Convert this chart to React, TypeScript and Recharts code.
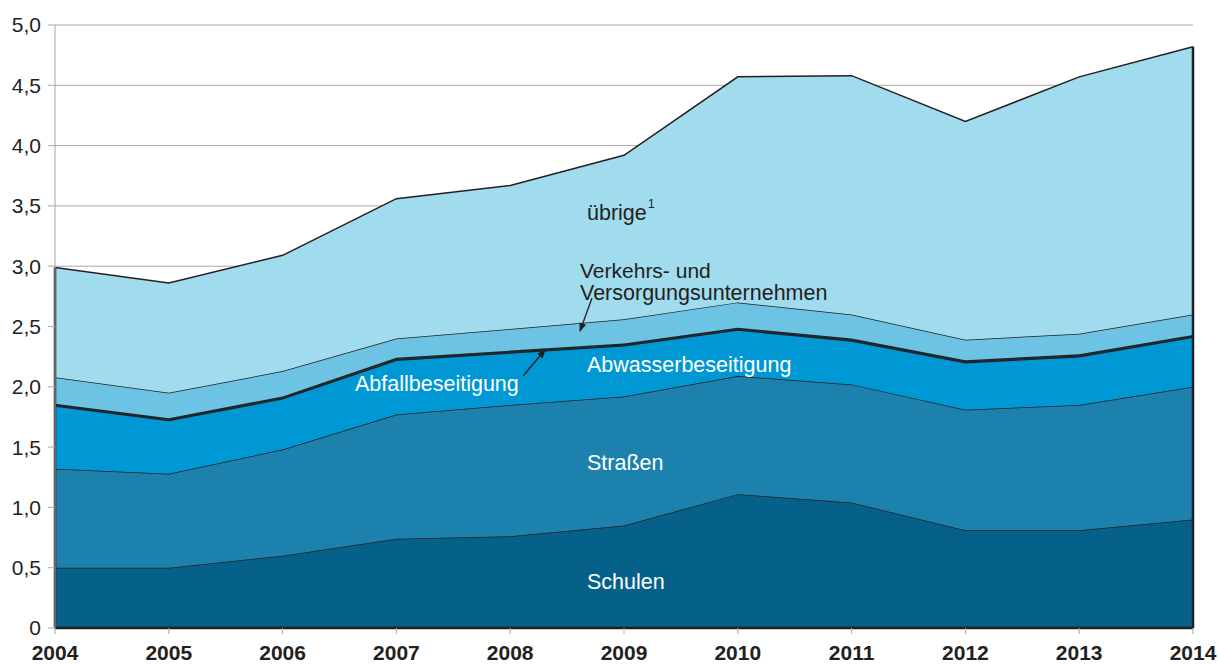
import React from "react"
import { AreaChart, Area, XAxis, YAxis, CartesianGrid, ReferenceLine } from "recharts"

const years = ["2004", "2005", "2006", "2007", "2008", "2009", "2010", "2011", "2012", "2013", "2014"]
const schulen = [0.5, 0.5, 0.6, 0.74, 0.76, 0.85, 1.11, 1.04, 0.81, 0.81, 0.9]
const strassen = [0.82, 0.78, 0.88, 1.03, 1.09, 1.07, 0.98, 0.98, 1.0, 1.04, 1.1]
const abwasser = [0.52, 0.44, 0.42, 0.45, 0.43, 0.42, 0.38, 0.36, 0.39, 0.4, 0.41]
const abfall = [0.02, 0.02, 0.02, 0.02, 0.02, 0.02, 0.02, 0.02, 0.02, 0.02, 0.02]
const verkehr = [0.22, 0.21, 0.21, 0.16, 0.18, 0.2, 0.21, 0.2, 0.17, 0.17, 0.17]
const uebrige = [0.91, 0.91, 0.96, 1.16, 1.19, 1.36, 1.87, 1.98, 1.81, 2.13, 2.22]
const yTicks = [0, 0.5, 1, 1.5, 2, 2.5, 3, 3.5, 4, 4.5, 5]

const data = years.map((year, i) => ({
  year,
  schulen: schulen[i],
  strassen: strassen[i],
  abwasser: abwasser[i],
  abfall: abfall[i],
  verkehr: verkehr[i],
  uebrige: uebrige[i],
}))

const totals = years.map((_, i) => schulen[i] + strassen[i] + abwasser[i] + abfall[i] + verkehr[i] + uebrige[i])

const FONT = '"Liberation Sans", Arial, Helvetica, sans-serif'
const EDGE = "#231f20"

const series = [
  { key: "schulen", fill: "#06618a" },
  { key: "strassen", fill: "#1c82ad" },
  { key: "abwasser", fill: "#0098d4" },
  { key: "abfall", fill: "#1d2a33" },
  { key: "verkehr", fill: "#6cc3e3" },
  { key: "uebrige", fill: "#a0dbee" },
]

export default function App() {
  return (
    <div style={{ position: "absolute", left: 0, top: 0, width: 1218, height: 664, fontFamily: FONT }}>
      <AreaChart width={1218} height={664} data={data} margin={{ top: 25, right: 25, left: 0, bottom: 0 }}>
        <CartesianGrid vertical={false} stroke="#a8a8a8" strokeWidth={1} />
        <XAxis
          dataKey="year"
          height={36}
          axisLine={{ stroke: EDGE, strokeWidth: 2.5 }}
          tickLine={{ stroke: "#a8a8a8" }}
          tickSize={6}
          interval={0}
          tick={{ fill: "#231f20", fontSize: 21, fontWeight: "bold", fontFamily: FONT }}
          dy={9}
        />
        <YAxis
          width={55}
          domain={[0, 5]}
          ticks={yTicks}
          axisLine={{ stroke: "#a8a8a8" }}
          tickLine={{ stroke: "#a8a8a8" }}
          tickSize={7}
          tick={{ fill: "#231f20", fontSize: 21, fontFamily: FONT }}
          dx={-5}
          tickFormatter={(v) => (v === 0 ? "0" : v.toFixed(1).replace(".", ","))}
        />
        {series.map((s) => (
          <Area
            key={s.key}
            type="linear"
            dataKey={s.key}
            stackId="1"
            fill={s.fill}
            fillOpacity={1}
            stroke={EDGE}
            strokeWidth={1.5}
            isAnimationActive={false}
          />
        ))}
        <ReferenceLine segment={[{ x: years[0], y: 0 }, { x: years[0], y: totals[0] }]} stroke={EDGE} strokeWidth={2.5} />
        <ReferenceLine
          segment={[{ x: years[years.length - 1], y: 0 }, { x: years[years.length - 1], y: totals[totals.length - 1] }]}
          stroke={EDGE}
          strokeWidth={2.5}
        />
      </AreaChart>
      <svg width={1218} height={664} style={{ position: "absolute", left: 0, top: 0, pointerEvents: "none" }}>
        <defs>
          <marker id="arrowDark" markerWidth="9" markerHeight="8" refX="8" refY="4" orient="auto" markerUnits="userSpaceOnUse">
            <path d="M0,0.5 L9,4 L0,7.5 Z" fill="#231f20" />
          </marker>
        </defs>
        <g fontFamily={FONT} fontSize={21.5}>
          <text x={587} y={220} fill="#231f20">übrige</text>
          <text x={648} y={208} fill="#231f20" fontSize={12}>1</text>
          <text x={580} y={278} fill="#231f20" fontSize={21}>Verkehrs- und</text>
          <text x={580} y={300} fill="#231f20" fontSize={21.5}>Versorgungsunternehmen</text>
          <text x={355} y={391} fill="#ffffff">Abfallbeseitigung</text>
          <text x={587} y={372} fill="#ffffff">Abwasserbeseitigung</text>
          <text x={587} y={470} fill="#ffffff">Straßen</text>
          <text x={587} y={589} fill="#ffffff">Schulen</text>
        </g>
        <line x1={592} y1={298} x2={580} y2={331} stroke="#231f20" strokeWidth={1.3} markerEnd="url(#arrowDark)" />
        <line x1={523} y1={376} x2={545} y2={350} stroke="#231f20" strokeWidth={1.3} markerEnd="url(#arrowDark)" />
      </svg>
    </div>
  )
}
